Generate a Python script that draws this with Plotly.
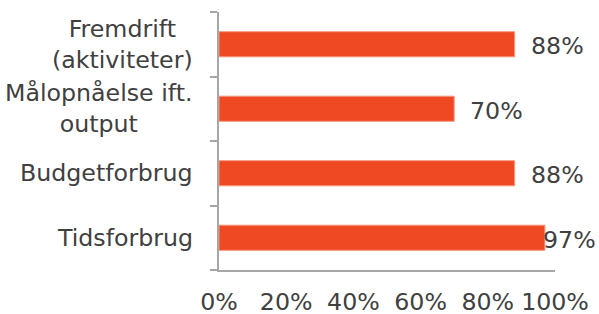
import plotly.graph_objects as go

categories = ["Fremdrift<br>(aktiviteter)", "Målopnåelse ift.<br>output", "Budgetforbrug", "Tidsforbrug"]
values = [0.88, 0.70, 0.88, 0.97]
value_labels = ["88%", "70%", "88%", "97%"]
x_ticks = [0, 0.2, 0.4, 0.6, 0.8, 1.0]
x_tick_labels = ["0%", "20%", "40%", "60%", "80%", "100%"]

bar_color = "#EE4923"
text_color = "#404040"
axis_color = "#A6A6A6"
font_family = "DejaVu Sans, Verdana, sans-serif"
fs = 23.7

fig = go.Figure()
fig.add_trace(go.Bar(
    y=categories, x=values, orientation="h",
    marker=dict(color=bar_color, line=dict(color="#F59A80", width=1)),
    width=0.39, hoverinfo="skip",
))

# value labels
for cat, v, lab in zip(categories, values, value_labels):
    fits = v < 0.95
    fig.add_annotation(
        x=v, y=cat, xref="x", yref="y", text=lab, showarrow=False,
        xanchor="left", yanchor="middle",
        xshift=14 if fits else -4, yshift=-2,
        font=dict(size=fs, color=text_color, family=font_family),
    )

# category labels (centre-aligned lines like the reference)
for cat in categories:
    fig.add_annotation(
        x=0, y=cat, xref="paper", yref="y", text=cat, showarrow=False,
        xanchor="right", yanchor="middle", align="center",
        xshift=-24, yshift=0,
        font=dict(size=fs, color=text_color, family=font_family),
    )

fig.update_layout(
    width=599, height=314,
    margin=dict(l=219, r=44, t=12, b=44),
    plot_bgcolor="white", paper_bgcolor="white",
    showlegend=False,
    font=dict(family=font_family, size=fs, color=text_color),
)
fig.update_xaxes(
    range=[0, 1], tickvals=x_ticks, ticktext=x_tick_labels,
    showgrid=False, zeroline=False, showline=True, linecolor=axis_color, linewidth=2,
    ticks="", ticklabelstandoff=10, automargin=False,
    tickfont=dict(size=fs, color=text_color),
)
fig.update_yaxes(
    categoryorder="array", categoryarray=categories[::-1],
    showgrid=False, zeroline=False, showline=True, linecolor=axis_color, linewidth=2,
    ticks="outside", tickson="boundaries", ticklen=7, tickcolor=axis_color, tickwidth=2,
    showticklabels=False, automargin=False,
)

fig.write_html(
    "out.html",
    config={"displayModeBar": False, "staticPlot": True},
    post_script="document.body.style.margin='0';document.body.style.overflow='hidden';",
)
